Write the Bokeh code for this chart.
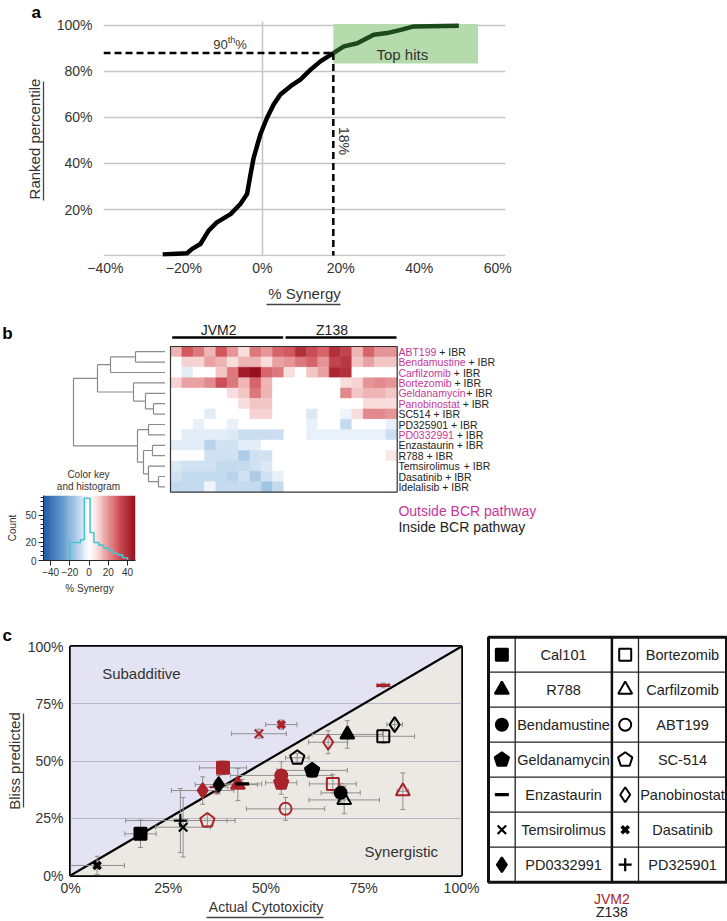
import numpy as np
from bokeh.plotting import figure
from bokeh.layouts import column, row
from bokeh.models import (Range1d, FixedTicker, LinearAxis, ColumnDataSource,
                          LinearColorMapper)
from bokeh.core.properties import value
from bokeh.embed import file_html
from bokeh.resources import INLINE

FONT = "Liberation Sans"
F = value(FONT)
TXT = "#333333"
MAGENTA = "#c8369a"
RED = "#a8232a"

# ---------------- data: panel a (ranked synergy curve) ----------------
rank_synergy = [-25.4, -19.2, -17.9, -15.8, -13.7, -11.6, -8.1, -5.6, -3.9, -3.0,
                -2.2, -0.5, 1.2, 2.9, 4.6, 7.2, 9.7, 12.3, 14.8, 18.1]
rank_pct = [0.4, 1.0, 2.9, 5.0, 10.8, 14.4, 18.0, 22.4, 26.7, 35.4,
            42.6, 52.7, 59.9, 65.7, 70.0, 73.6, 76.5, 80.8, 84.4, 88.0]
top_synergy = [18.1, 20.8, 24.2, 28.4, 31.8, 35.3, 38.6, 50.1]
top_pct = [88.0, 90.9, 92.3, 96.0, 96.7, 98.1, 99.6, 99.9]
cutoff_synergy = 18.1
cutoff_pct = 88.0
tophits_right = 55.0
tophits_bottom = 83.5
tophits_top = 100.6
a_xticks = [-40, -20, 0, 20, 40, 60]
a_yticks = [20, 40, 60, 80, 100]

# ---------------- data: panel b (heatmap) ----------------
b_drugs = ["ABT199", "Bendamustine", "Carfilzomib", "Bortezomib", "Geldanamycin",
           "Panobinostat", "SC514", "PD325901", "PD0332991", "Enzastaurin", "R788",
           "Temsirolimus", "Dasatinib", "Idelalisib"]
b_outside = [True, True, True, True, True, True, False, False, True, False, False,
             False, False, False]
b_groups = ["JVM2", "Z138"]
b_synergy = [
    [15, 30, 25, 15, 30, 20, 8, 25, 20, 28, 30, 40, 33, 28, 40, 35, 15, 28, 20, 20],
    [0, 10, 10, 18, 15, 8, 15, 15, 8, 18, 20, 25, 28, 20, 35, 38, 12, 18, 12, 12],
    [0, -5, 0, 0, 12, 25, 45, 48, 28, 25, 8, 0, 12, 18, 42, 40, 0, 0, 0, 0],
    [10, 18, 18, 22, 32, 25, 15, 28, 15, 0, 0, 0, 0, 0, 0, 8, 10, 20, 22, 20],
    [0, 0, 0, 0, 0, 8, 12, 25, 15, 0, 0, 0, 0, 0, 0, 22, 12, 15, 15, 12],
    [0, 0, 0, 0, 0, 0, 8, 12, 12, 0, 0, 0, 0, 0, 0, 0, 0, 8, 8, 8],
    [0, 0, 0, -5, 0, 0, 0, 10, 10, 0, 0, 0, -6, 0, 0, -3, 8, 22, 22, 20],
    [0, 0, -4, 0, 0, -4, 0, 0, 0, 0, 0, 0, -4, 0, 0, -10, 0, 0, 0, -4],
    [0, -5, -5, -5, -5, -6, -9, -9, -9, -9, 0, 0, -4, -4, -4, -4, -4, -4, -4, -9],
    [-5, -5, -5, -12, -8, -8, -5, -5, 0, 0, 0, 0, 0, 0, 0, 0, 0, 0, 0, 0],
    [0, 0, 0, -8, -8, -8, -14, -8, -8, 0, 0, 0, 0, 0, 0, 0, 0, 0, 0, 6],
    [-6, -8, -8, -8, -10, -10, -10, -8, -6, 0, 0, 0, 0, 0, 0, 0, 0, 0, 0, 0],
    [-8, -10, -10, -10, -10, -12, -8, -14, -8, -4, 0, 0, 0, 0, 0, 0, 0, 0, 0, 0],
    [-10, -10, -10, -3, -10, -10, -10, -10, -16, -10, 0, 0, 0, 0, 0, 0, 0, 0, 0, 0],
]
# dendrogram merges (child a, child b, height); ids >= 14 refer to earlier merges
b_merges = [(0, 1, 30), (14, 2, 55), (5, 6, 12), (4, 16, 20), (3, 17, 32), (15, 18, 68),
            (7, 8, 17), (9, 10, 13), (12, 13, 7), (11, 22, 17), (21, 23, 22), (20, 24, 28),
            (19, 25, 92)]
hist_edges = [-20, -9, -5, 1, 5, 10, 15, 20, 25, 30, 35, 40]
hist_counts = [20, 23, 69, 31, 20, 17, 14, 11, 8, 6, 3]
key_xticks = [-40, -20, 0, 20, 40]
key_yticks = [0, 20, 50]

# ---------------- data: panel c (Bliss scatter) ----------------
jvm2_drugs = ["Cal101", "R788", "Bendamustine", "Geldanamycin", "Enzastaurin", "Temsirolimus",
              "PD0332991", "Bortezomib", "Carfilzomib", "ABT199", "SC-514", "Panobinostat",
              "Dasatinib", "PD325901"]
jvm2_actual = [39.0, 42.8, 53.9, 53.9, 80.0, 48.2, 33.8, 67.1, 85.0, 55.0, 35.0, 65.9, 53.9, 37.3]
jvm2_bliss = [47.0, 39.7, 43.7, 40.5, 83.0, 61.9, 37.1, 40.0, 36.8, 29.1, 24.0, 58.2, 65.9, 38.6]
jvm2_err_x = [6, 5, 13, 4, 1.5, 7, 8, 6, 1.5, 10, 5, 5, 4, 3]
jvm2_err_y = [3, 7, 6, 5, 1, 2, 6, 4, 8, 5, 3, 5, 2, 3]
z138_drugs = ["Cal101", "R788", "Bendamustine", "Geldanamycin", "Enzastaurin", "Temsirolimus",
              "PD0332991", "Bortezomib", "Carfilzomib", "SC-514", "Panobinostat", "Dasatinib",
              "PD325901"]
z138_actual = [17.9, 70.8, 69.1, 61.8, 43.9, 28.8, 37.9, 80.0, 70.0, 58.0, 82.9, 6.8, 28.1]
z138_bliss = [18.2, 61.6, 36.1, 45.9, 40.0, 21.1, 39.7, 60.8, 33.0, 51.4, 65.9, 4.4, 24.0]
z138_err_x = [4, 9, 5, 9, 5, 7, 6, 8, 9, 3, 2, 7, 14]
z138_err_y = [6, 6, 4, 3, 2, 13, 4, 3, 6, 2, 2, 4, 14]
c_ticks = [0, 25, 50, 75, 100]
legend_rows = [("Cal101", "Bortezomib"), ("R788", "Carfilzomib"), ("Bendamustine", "ABT199"),
               ("Geldanamycin", "SC-514"), ("Enzastaurin", "Panobinostat"),
               ("Temsirolimus", "Dasatinib"), ("PD0332991", "PD325901")]
cell_lines = ["JVM2", "Z138"]
MARK = {"Cal101": ("square", True), "Bortezomib": ("square", False),
        "R788": ("triangle", True), "Carfilzomib": ("triangle", False),
        "Bendamustine": ("circle", True), "ABT199": ("circle", False),
        "Geldanamycin": ("pentagon", True), "SC-514": ("pentagon", False),
        "Enzastaurin": ("dash", True), "Panobinostat": ("diamond", False),
        "Temsirolimus": ("x", True), "Dasatinib": ("xbold", True),
        "PD0332991": ("diamond", True), "PD325901": ("cross", True)}
SIZE = {"square": 12, "triangle": 14, "circle": 12, "diamond": 15, "x": 12, "xbold": 10,
        "cross": 13, "dash": 14}

# ---------------- helpers ----------------
AW = {' ': 278, '+': 584, '-': 333, '%': 889, 'A': 667, 'B': 667, 'C': 722, 'D': 722, 'E': 667,
      'I': 278, 'P': 667, 'R': 722, 'S': 667, 'T': 611, 'a': 556, 'b': 556, 'c': 500, 'd': 556,
      'e': 556, 'f': 278, 'g': 556, 'h': 556, 'i': 222, 'k': 500, 'l': 222, 'm': 833, 'n': 556,
      'o': 556, 'p': 556, 'r': 333, 's': 500, 't': 278, 'u': 556, 'y': 500, 'z': 500}


def text_w(s, size):
    return sum(AW.get(ch, 556) for ch in s) * size / 1000.0


def base_fig(**kw):
    p = figure(output_backend="svg", toolbar_location=None, **kw)
    p.outline_line_color = None
    return p


def bare_fig(**kw):
    p = base_fig(x_axis_location=None, y_axis_location=None, min_border=0, **kw)
    p.grid.visible = False
    return p


def style_axis(ax, tick_size, label_size):
    ax.axis_line_color = None
    ax.major_tick_line_color = None
    ax.minor_tick_line_color = None
    ax.major_tick_out = 0
    ax.major_tick_in = 0
    ax.minor_tick_out = 0
    ax.minor_tick_in = 0
    ax.major_label_text_font = FONT
    ax.major_label_text_font_size = tick_size
    ax.major_label_text_color = TXT
    ax.axis_label_text_font = FONT
    ax.axis_label_text_font_size = label_size
    ax.axis_label_text_font_style = "normal"
    ax.axis_label_text_color = TXT


def line_axis(bounds=None, label=None, label_size="15px"):
    ax = LinearAxis(ticker=FixedTicker(ticks=[]), major_label_standoff=0)
    style_axis(ax, "10px", label_size)
    ax.axis_line_color = "#444444"
    ax.axis_line_width = 1.3
    if bounds is not None:
        ax.bounds = bounds
    if label is not None:
        ax.axis_label = label
        ax.axis_label_standoff = 1
    return ax


def spacer_axis(width, at):
    # invisible axis that only reserves a gap of `width` px (one white tick)
    ax = LinearAxis(ticker=FixedTicker(ticks=[at]), major_label_standoff=0)
    style_axis(ax, "10px", "10px")
    ax.major_tick_out = width
    ax.major_tick_line_color = "white"
    ax.major_label_text_color = None
    ax.major_label_overrides = {at: ""}
    return ax


def pct_label(t):
    return ("%d%%" % t).replace("-", "\u2212")


def panel_title(p, letter, offset, standoff):
    p.title.text = letter
    p.title.align = "left"
    p.title.offset = offset
    p.title.standoff = standoff
    p.title.text_font = FONT
    p.title.text_font_size = "17px"
    p.title.text_font_style = "bold"
    p.title.text_color = "black"


def interp_palette(anchors, n):
    vals = np.linspace(anchors[0][0], anchors[-1][0], n)
    av = [a[0] for a in anchors]
    rgb = np.array([[int(a[1][k:k + 2], 16) for k in (1, 3, 5)] for a in anchors], float)
    out = []
    for v in vals:
        c = [np.interp(v, av, rgb[:, k]) for k in range(3)]
        out.append("#%02x%02x%02x" % tuple(int(round(x)) for x in c))
    return out


def pentagons(xs, ys, r, ppx, ppy):
    ang = np.pi / 2 + np.arange(5) * 2 * np.pi / 5
    return ([list(x + r * np.cos(ang) / ppx) for x in xs],
            [list(y + r * np.sin(ang) / ppy) for y in ys])


def draw_markers(p, drugs, xs, ys, color, ppx, ppy, scale=1.0):
    groups = {}
    for d, x, y in zip(drugs, xs, ys):
        groups.setdefault(MARK[d], []).append((x, y))
    for (m, filled), pts in groups.items():
        px = [q[0] for q in pts]
        py = [q[1] for q in pts]
        if m == "pentagon":
            pxs, pys = pentagons(px, py, 7.5 * scale, ppx, ppy)
            p.patches(pxs, pys, fill_color=color if filled else None, line_color=color,
                      line_width=2)
        elif m in ("x", "xbold", "cross", "dash"):
            lw = {"x": 2.2, "xbold": 3.6, "cross": 2.2, "dash": 3.2}[m]
            p.scatter(px, py, marker="x" if m == "xbold" else m, size=SIZE[m] * scale,
                      line_color=color, line_width=lw)
        else:
            p.scatter(px, py, marker=m, size=SIZE[m] * scale, fill_color=color,
                      fill_alpha=1.0 if filled else 0.0, line_color=color, line_width=2)


# =============== panel a ===============
pa = base_fig(width=727, height=320, x_range=Range1d(-40.5, 62), y_range=Range1d(-0.43, 101.73),
              min_border_left=103, min_border_right=222, min_border_top=20, min_border_bottom=64)
panel_title(pa, "a", -72, 0)
style_axis(pa.xaxis, "14px", "15px")
style_axis(pa.yaxis, "14px", "15px")
pa.xaxis.ticker = FixedTicker(ticks=a_xticks)
pa.xaxis.major_label_overrides = {t: pct_label(t) for t in a_xticks}
pa.yaxis.ticker = FixedTicker(ticks=a_yticks)
pa.yaxis.major_label_overrides = {t: pct_label(t) for t in a_yticks}
pa.xaxis.major_label_standoff = 3
pa.yaxis.major_label_standoff = 11
pa.xaxis.axis_label = "% Synergy"
pa.xaxis.axis_label_standoff = 6
pa.add_layout(line_axis(bounds=(1.07, 19.9)), "below")
pa.add_layout(spacer_axis(10, 0), "left")
pa.add_layout(line_axis(bounds=(23.8, 75.8), label="Ranked percentile"), "left")
pa.xgrid.ticker = FixedTicker(ticks=[0])
pa.ygrid.ticker = FixedTicker(ticks=[0] + a_yticks)
pa.grid.grid_line_color = "#c4c4c4"
pa.grid.grid_line_width = 1.5

pa.quad(left=[cutoff_synergy], right=[tophits_right], bottom=[tophits_bottom], top=[tophits_top],
        fill_color="#b5dbad", line_color=None)
pa.line([pa.x_range.start, cutoff_synergy], [cutoff_pct, cutoff_pct], line_color="black",
        line_width=2.5, line_dash="7 4")
pa.line([cutoff_synergy, cutoff_synergy], [cutoff_pct, 0], line_color="black",
        line_width=2.5, line_dash="7 4")
pa.line(rank_synergy, rank_pct, line_color="black", line_width=4.5, line_join="round")
pa.line(top_synergy, top_pct, line_color="#1d4a1d", line_width=4.5, line_join="round")
pa.text([-12.5], [91.6], text=["90"], text_font=F, text_font_size="13px", text_color=TXT,
        text_baseline="middle")
pa.text([-12.5], [91.6], text=["th"], x_offset=text_w("90", 13), y_offset=-5, text_font=F,
        text_font_size="9px", text_color=TXT, text_baseline="middle")
pa.text([-12.5], [91.6], text=["%"], x_offset=text_w("90", 13) + text_w("th", 9), text_font=F,
        text_font_size="13px", text_color=TXT, text_baseline="middle")
pa.text([20.7], [49.8], text=["18%"], angle=-np.pi / 2, text_font=F, text_font_size="14px",
        text_color=TXT, text_align="center", text_baseline="middle")
pa.text([35.7], [87.4], text=["Top hits"], text_font=F, text_font_size="15px", text_color=TXT,
        text_align="center", text_baseline="middle")

# =============== panel b ===============
n_rows = len(b_drugs)
n_cols = len(b_synergy[0])
per_group = n_cols // len(b_groups)
pal = interp_palette([(-48, "#245ca3"), (-30, "#5d96cc"), (-15, "#a6c8e6"), (-5, "#e2edf7"),
                      (0, "#ffffff"), (5, "#fcefef"), (15, "#efb4b4"), (30, "#d2585e"),
                      (48, "#97101e")], 97)
mapper = LinearColorMapper(palette=pal, low=-48, high=48)

ph = bare_fig(width=562, height=285, x_range=Range1d(-0.441, 49.14),
              y_range=Range1d(24.90, -2.5))
hx, hy, hv = [], [], []
for i, rv in enumerate(b_synergy):
    for j, v in enumerate(rv):
        hx.append(j + 0.5)
        hy.append(i + 0.5)
        hv.append(v)
hsrc = ColumnDataSource(dict(x=hx, y=hy, v=hv))
ph.rect("x", "y", 1, 1, source=hsrc, fill_color={"field": "v", "transform": mapper},
        line_color={"field": "v", "transform": mapper}, line_width=0.5)
ph.quad(left=[0], right=[n_cols], top=[0], bottom=[n_rows], fill_color=None,
        line_color="#333333", line_width=1.2)
gx0 = [g * per_group + 0.15 for g in range(len(b_groups))]
gx1 = [(g + 1) * per_group - 0.06 for g in range(len(b_groups))]
ph.segment(x0=gx0, x1=gx1, y0=[-0.87] * 2, y1=[-0.87] * 2, line_color="black", line_width=2.5)
ph.text([g * per_group + 4.25 for g in range(len(b_groups))], [-1.54] * 2, text=b_groups,
        text_font=F, text_font_size="14px", text_color="#222222", text_align="center",
        text_baseline="middle")
lab_x = n_cols + 0.11
ph.text([lab_x] * n_rows, [i + 0.5 for i in range(n_rows)], text=b_drugs, text_font=F,
        text_font_size="10.5px", text_baseline="middle",
        text_color=[MAGENTA if o else "#222222" for o in b_outside])
ph.text([lab_x] * n_rows, [i + 0.5 for i in range(n_rows)], text=["+ IBR"] * n_rows,
        x_offset=[text_w(d + " ", 10.5) for d in b_drugs], text_font=F, text_font_size="10.5px",
        text_baseline="middle", text_color="#222222")
ph.text([lab_x, lab_x], [15.77, 17.38], text=["Outside BCR pathway", "Inside BCR pathway"],
        text_font=F, text_font_size="14px", text_baseline="middle",
        text_color=[MAGENTA, "#222222"])

# dendrogram
pdg = bare_fig(width=165, height=172, x_range=Range1d(165, 0), y_range=Range1d(14.038, -2.5))
node_y = {i: i + 0.5 for i in range(n_rows)}
node_h = {i: 0.0 for i in range(n_rows)}
seg_x, seg_y = [], []
for k, (a, b, h) in enumerate(b_merges):
    for c in (a, b):
        seg_x.append([node_h[c], h])
        seg_y.append([node_y[c], node_y[c]])
    seg_x.append([h, h])
    seg_y.append([node_y[a], node_y[b]])
    node_y[n_rows + k] = (node_y[a] + node_y[b]) / 2
    node_h[n_rows + k] = h
pdg.multi_line(seg_x, seg_y, line_color="#8a8a8a", line_width=1.2)
pdg.text([158], [-1.25], text=["b"], text_font=F, text_font_size="17px",
         text_font_style="bold", text_align="center", text_baseline="middle")
pdg.text([77, 77], [12.31, 13.46], text=["Color key", "and histogram"], text_font=F,
         text_font_size="10px", text_color=TXT, text_align="center", text_baseline="middle")

# color key
pk = base_fig(width=165, height=113, x_range=Range1d(-47.5, 48.3), y_range=Range1d(0, 72),
              min_border_left=43, min_border_right=30, min_border_top=3, min_border_bottom=45)
pk.grid.visible = False
pk.image(image=[np.linspace(-47.5, 48.3, 200).reshape(1, -1)], x=-47.5, y=0, dw=95.8, dh=72,
         color_mapper=mapper)
hxs = [hist_edges[0]]
hys = [0]
for i, cnt in enumerate(hist_counts):
    hxs += [hist_edges[i], hist_edges[i + 1]]
    hys += [cnt, cnt]
hxs.append(hist_edges[-1])
hys.append(0)
pk.line(hxs, hys, line_color="#4cc3d4", line_width=1.6)
for ax in (pk.xaxis, pk.yaxis):
    ax.axis_line_color = "#222222"
    ax.major_tick_line_color = "#222222"
    ax.minor_tick_line_color = "#222222"
    ax.major_tick_out = 5
    ax.major_tick_in = 0
    ax.minor_tick_out = 3
    ax.minor_tick_in = 0
    ax.major_label_text_font = FONT
    ax.major_label_text_font_size = "10px"
    ax.major_label_text_color = TXT
    ax.axis_label_text_font = FONT
    ax.axis_label_text_font_size = "10px"
    ax.axis_label_text_font_style = "normal"
    ax.axis_label_text_color = TXT
    ax.major_label_standoff = 2
    ax.axis_label_standoff = 4
pk.xaxis.ticker = FixedTicker(ticks=key_xticks)
pk.xaxis.major_label_overrides = {t: ("%d" % t).replace("-", "\u2212") for t in key_xticks}
pk.xaxis.minor_tick_line_color = None
pk.yaxis.ticker = FixedTicker(ticks=key_yticks, minor_ticks=list(range(0, 71, 5)))
pk.xaxis.axis_label = "% Synergy"
pk.yaxis.axis_label = "Count"

# =============== panel c ===============
pc = base_fig(width=480, height=316, x_range=Range1d(0, 100), y_range=Range1d(0, 100),
              min_border_left=70, min_border_right=19, min_border_top=41, min_border_bottom=46)
panel_title(pc, "c", -68, 4)
pc.outline_line_color = "black"
pc.outline_line_width = 3
style_axis(pc.xaxis, "14px", "14px")
style_axis(pc.yaxis, "14px", "15px")
pc.xaxis.ticker = FixedTicker(ticks=c_ticks)
pc.yaxis.ticker = FixedTicker(ticks=c_ticks)
pc.xaxis.major_label_overrides = {t: pct_label(t) for t in c_ticks}
pc.yaxis.major_label_overrides = {t: pct_label(t) for t in c_ticks}
pc.xaxis.major_label_standoff = 4
pc.yaxis.major_label_standoff = 7
pc.xaxis.axis_label = "Actual Cytotoxicity"
pc.xaxis.axis_label_standoff = 0
pc.add_layout(line_axis(bounds=(34.8, 64.7)), "below")
pc.add_layout(spacer_axis(1, 0), "left")
pc.add_layout(line_axis(bounds=(29.7, 70.7), label="Bliss predicted"), "left")
pc.xgrid.visible = False
pc.ygrid.ticker = FixedTicker(ticks=c_ticks[1:-1])
pc.ygrid.grid_line_color = "#b6b6c8"
pc.ygrid.grid_line_width = 1
lo, hi = c_ticks[0], c_ticks[-1]
pc.patch([lo, lo, hi], [lo, hi, hi], fill_color="#e3e3f3", line_color=None, level="image")
pc.patch([lo, hi, hi], [lo, lo, hi], fill_color="#ece9e4", line_color=None, level="image")
pc.line([lo, hi], [lo, hi], line_color="black", line_width=2.2)

PPX, PPY = 391 / 100.0, 229 / 100.0
for xs, ys, ex, ey in ((jvm2_actual, jvm2_bliss, jvm2_err_x, jvm2_err_y),
                       (z138_actual, z138_bliss, z138_err_x, z138_err_y)):
    xa, ya, exa, eya = map(np.array, (xs, ys, ex, ey))
    pc.segment(x0=xa - exa, x1=xa + exa, y0=ya, y1=ya, line_color="#8f8f8f", line_width=1)
    pc.segment(x0=xa, x1=xa, y0=ya - eya, y1=ya + eya, line_color="#8f8f8f", line_width=1)
    pc.scatter(np.concatenate([xa - exa, xa + exa]), np.concatenate([ya, ya]), marker="dash",
               angle=np.pi / 2, size=5, line_color="#8f8f8f", line_width=1)
    pc.scatter(np.concatenate([xa, xa]), np.concatenate([ya - eya, ya + eya]), marker="dash",
               size=5, line_color="#8f8f8f", line_width=1)
draw_markers(pc, jvm2_drugs, jvm2_actual, jvm2_bliss, RED, PPX, PPY)
draw_markers(pc, z138_drugs, z138_actual, z138_bliss, "black", PPX, PPY)
pc.text([8.1], [88.0], text=["Subadditive"], text_font=F, text_font_size="15px",
        text_color=TXT, text_baseline="middle")
pc.text([84.6], [10.6], text=["Synergistic"], text_font=F, text_font_size="15px",
        text_color=TXT, text_align="center", text_baseline="middle")

# legend table
pl = bare_fig(width=247, height=316, x_range=Range1d(-8, 239), y_range=Range1d(8.123, -0.906))
col_edges = [0, 26.7, 123.4, 150, 238]
n_leg = len(legend_rows)
pl.multi_line([[e, e] for e in col_edges[1:4:2]], [[0, n_leg]] * 2, line_color="#222222",
              line_width=1.3)
pl.multi_line([[col_edges[0], col_edges[-1]] for r in range(1, n_leg)],
              [[r, r] for r in range(1, n_leg)], line_color="#222222", line_width=1.3)
pl.line([col_edges[2], col_edges[2]], [0, n_leg], line_color="#111111", line_width=2.5)
pl.quad(left=[col_edges[0]], right=[col_edges[-1]], top=[0], bottom=[n_leg], fill_color=None,
        line_color="#111111", line_width=3)
left_names = [r[0] for r in legend_rows]
right_names = [r[1] for r in legend_rows]
ry = [r + 0.5 for r in range(n_leg)]
pl.text([(col_edges[1] + col_edges[2]) / 2] * n_leg, ry, text=left_names, text_font=F,
        text_font_size="14.5px", text_color="#222222", text_align="center",
        text_baseline="middle")
pl.text([(col_edges[3] + col_edges[4]) / 2] * n_leg, ry, text=right_names, text_font=F,
        text_font_size="14.5px", text_color="#222222", text_align="center",
        text_baseline="middle")
draw_markers(pl, left_names, [(col_edges[0] + col_edges[1]) / 2] * n_leg, ry, "black",
             1.0, -35.0)
draw_markers(pl, right_names, [(col_edges[2] + col_edges[3]) / 2] * n_leg, ry, "black",
             1.0, -35.0)
pl.text([col_edges[2], col_edges[2]], [7.466, 7.85], text=cell_lines, text_font=F,
        text_font_size="14px", text_color=[RED, "#222222"], text_align="center",
        text_baseline="middle")

layout = column(pa, row(column(pdg, row(pk)), ph), row(pc, column(pl)))
open("out.html", "w").write(file_html(layout, INLINE))
